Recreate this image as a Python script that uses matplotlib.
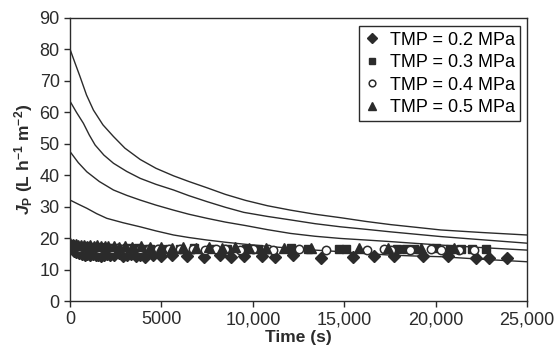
import matplotlib.pyplot as plt
import numpy as np

plt.rcParams['font.family'] = ['Liberation Sans', 'DejaVu Sans']
plt.rcParams['mathtext.fontset'] = 'custom'
plt.rcParams['mathtext.rm'] = 'Liberation Sans'
plt.rcParams['mathtext.it'] = 'Liberation Sans:italic'
plt.rcParams['mathtext.bf'] = 'Liberation Sans:bold'
plt.rcParams['mathtext.bfit'] = 'Liberation Sans:bold:italic'

# Model curves (one per TMP)
t_a = [0, 250, 548, 900, 1278, 1800, 2375, 3000, 3838, 4700, 5663, 6500, 7494, 8500,
       9600, 10800, 12061, 13400, 14800, 16200, 17540, 19000, 20285, 22500, 25000]
v_a = [80, 76.0, 71.3, 65.5, 60.7, 56.0, 52.3, 48.6, 45.0, 42.2, 39.8, 38.0, 36.0, 33.9,
       32.0, 30.3, 28.9, 27.6, 26.5, 25.3, 24.3, 23.4, 22.6, 21.8, 21.0]
t_b = [0, 350, 730, 1050, 1370, 1850, 2375, 3100, 3838, 4700, 5663, 6500, 7494, 8500,
       9500, 10800, 12061, 13400, 14800, 16200, 17540, 19000, 20285, 22500, 25000]
v_b = [63.5, 60.0, 56.5, 52.8, 49.6, 46.4, 43.8, 41.2, 39.0, 37.1, 35.3, 33.5, 31.6, 29.8,
       28.2, 26.9, 25.8, 24.6, 23.6, 22.8, 22.0, 21.2, 20.5, 19.5, 18.4]
t_c = [0, 450, 915, 1600, 2375, 3100, 3838, 4700, 5663, 6500, 7494, 8500, 9600, 10800,
       12061, 13400, 14800, 16200, 17540, 19000, 20285, 22500, 25000]
v_c = [47.5, 44.0, 41.1, 38.0, 35.3, 33.6, 32.1, 30.5, 28.9, 27.6, 26.3, 25.1, 24.0, 22.7,
       21.5, 20.6, 19.9, 19.4, 18.9, 18.3, 17.8, 17.0, 16.2]
t_d = [0, 450, 915, 1450, 2010, 2900, 3838, 4700, 5663, 6500, 7494, 8500, 9500, 10800,
       12061, 13400, 14800, 16200, 17540, 19000, 20285, 22500, 25000]
v_d = [32.1, 30.8, 29.5, 27.8, 26.3, 24.9, 23.6, 22.3, 21.0, 20.2, 19.4, 18.7, 18.1, 17.4,
       16.8, 16.2, 15.7, 15.1, 14.6, 14.3, 14.1, 13.3, 12.5]

# Measured flux
t_02 = [50, 200, 350, 500, 650, 800, 950, 1100, 1250, 1400, 1550, 1700, 1850, 2000,
        2200, 2400, 2650, 2900, 3100, 3350, 3600, 3850, 4100, 4550, 5000, 5600, 6400,
        7300, 8200, 8800, 9500, 10500, 11200, 12200, 13700, 15500, 16600, 17700, 19300,
        20700, 22200, 22900, 23900]
j_02 = [16.8, 16.0, 15.5, 15.2, 15.0, 14.8, 15.1, 14.6, 14.9, 14.5, 14.8, 14.3, 14.7, 15.0,
        14.5, 14.8, 15.2, 14.4, 14.7, 15.0, 14.3, 14.8, 14.1, 14.5, 14.2, 14.8, 14.3,
        14.0, 14.5, 14.1, 14.3, 14.4, 14.1, 14.5, 13.8, 14.1, 14.3, 14.4, 14.2,
        14.4, 13.6, 13.8, 13.6]
t_03 = [0, 150, 300, 450, 600, 750, 900, 1050, 1200, 1400, 1600, 1800, 2000, 2250, 2500,
        2800, 3100, 3400, 3700, 4000, 4400, 4900, 5400, 6000, 6800, 7700, 8600, 9600,
        10300, 12100, 13000, 14700, 15100, 17900, 18400, 18800, 20000, 20800, 21400,
        22000, 22750]
j_03 = [18.0, 17.8, 17.5, 17.6, 17.3, 17.2, 17.4, 17.0, 17.2, 17.0, 17.1, 16.8, 17.0, 16.9,
        16.8, 16.7, 16.8, 16.6, 16.8, 16.5, 16.7, 16.5, 16.7, 16.6, 16.8, 16.5, 16.6,
        16.7, 16.5, 16.8, 16.6, 16.5, 16.6, 16.7, 16.6, 16.5, 16.8, 16.6, 16.7, 16.5, 16.6]
t_04 = [100, 250, 400, 550, 700, 850, 1000, 1200, 1400, 1600, 1800, 2000, 2300, 2600,
        2900, 3300, 3800, 4300, 4800, 5400, 6000, 6700, 7400, 8000, 8500, 9300, 10000,
        10850, 11100, 12500, 14000, 16260, 17150, 17540, 18600, 19740, 20290, 21300, 22100]
j_04 = [17.6, 17.3, 17.5, 17.0, 17.2, 17.0, 17.1, 16.8, 17.0, 16.7, 16.9, 16.8, 16.6, 16.8,
        16.7, 16.5, 16.7, 16.4, 16.6, 16.5, 16.4, 16.6, 16.3, 16.5, 16.4, 16.3, 16.5,
        16.4, 16.3, 16.4, 16.2, 16.3, 16.4, 16.2, 16.3, 16.4, 16.2, 16.3, 16.2]
t_05 = [0, 150, 300, 450, 600, 750, 900, 1100, 1300, 1500, 1700, 1900, 2100, 2400, 2700,
        3000, 3400, 3900, 4400, 5000, 5600, 6200, 6900, 7600, 8300, 9000, 9800, 10700,
        11700, 13200, 15800, 17400, 19200, 21000]
j_05 = [18.5, 18.2, 18.0, 17.8, 17.9, 17.7, 17.6, 17.8, 17.5, 17.7, 17.5, 17.6, 17.4, 17.6,
        17.3, 17.5, 17.2, 17.4, 17.1, 17.3, 17.0, 17.2, 17.0, 17.1, 16.9, 17.1, 16.9,
        17.0, 16.9, 16.8, 16.9, 16.8, 16.8, 16.8]

x_ticks = [0, 5000, 10000, 15000, 20000, 25000]
x_labels = ["0", "5000", "10,000", "15,000", "20,000", "25,000"]
y_ticks = list(range(0, 100, 10))

ink = "#2b2b2b"

fig = plt.figure(figsize=(5.56, 3.58), dpi=100)
ax = fig.add_axes([0.126, 0.159, 0.822, 0.791])

for t, v in [(t_a, v_a), (t_b, v_b), (t_c, v_c), (t_d, v_d)]:
    ax.plot(t, v, color=ink, lw=1.0, zorder=2)

ax.plot(t_02, j_02, "D", ms=6.3, color=ink, ls="none", label="TMP = 0.2 MPa", zorder=3)
ax.plot(t_03, j_03, "s", ms=6, color=ink, ls="none", label="TMP = 0.3 MPa", zorder=3)
ax.plot(t_04, j_04, "o", ms=6, mfc="white", mec=ink, mew=1.1, ls="none",
        label="TMP = 0.4 MPa", zorder=3)
ax.plot(t_05, j_05, "^", ms=6.5, color=ink, ls="none", label="TMP = 0.5 MPa", zorder=3)

ax.set_xlim(0, 25000)
ax.set_ylim(0, 90)
ax.set_xticks(x_ticks)
ax.set_xticklabels(x_labels)
ax.set_yticks(y_ticks)
ax.tick_params(direction="out", length=4, width=1, labelsize=13, colors=ink)

for spine in ax.spines.values():
    spine.set_color(ink)
    spine.set_linewidth(1.0)

ax.set_xlabel("Time (s)", fontsize=12.5, fontweight="bold", color=ink, labelpad=1)
ax.set_ylabel(r"$\mathbfit{J}_{\mathbf{P}}$ (L h$^{\mathbf{-1}}$ m$^{\mathbf{-2}}$)",
              fontsize=12.5, fontweight="bold", color=ink, labelpad=3)

leg = ax.legend(loc="upper right", bbox_to_anchor=(0.985, 0.97), fontsize=13,
                frameon=True, fancybox=False, framealpha=1, edgecolor=ink,
                handlelength=0.8, handletextpad=0.6, borderpad=0.3, labelspacing=0.3,
                borderaxespad=0, markerscale=0.8)
leg.get_frame().set_linewidth(1.0)

plt.savefig("out.png", dpi=100)
